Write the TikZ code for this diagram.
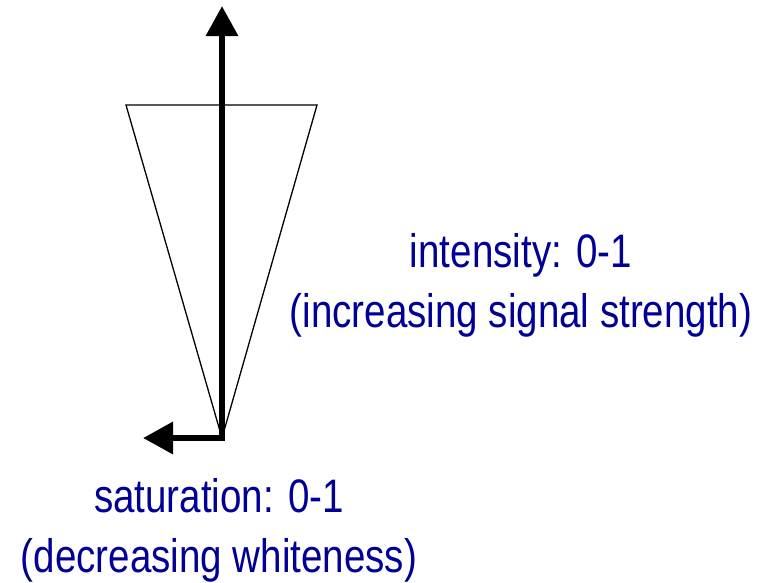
\documentclass[tikz,border=0pt]{standalone}
\usepackage{fontspec}
\setmainfont{Liberation Sans}[FakeStretch=0.82]
\usepackage{xcolor}
\usetikzlibrary{arrows.meta}
\definecolor{labelblue}{RGB}{0,0,150}

\begin{document}
\begin{tikzpicture}[x=1pt, y=-1pt, >={Triangle[length=30pt,width=31pt]},
  axis/.style={line width=6.3pt, <->},
  cone/.style={line width=1.3pt, line join=miter},
  axislabel/.style={text=labelblue, align=center, inner sep=0pt,
    font=\fontsize{47}{60}\selectfont}]
\useasboundingbox (0,0) rectangle (778,582);

% Cone
\coordinate (tl) at (126,105);
\coordinate (tr) at (317,105);
\coordinate (apex) at (222,438);
\draw[cone] (tl) -- (tr) -- (apex) -- cycle;

% Axes
\coordinate (top) at (222,6);
\coordinate (corner) at (222,438);
\coordinate (left) at (143,438);
\draw[axis] (top) -- (corner) -- (left);

% Labels
\node[axislabel] (intensity) at (521,285) {intensity: 0-1\\(increasing signal strength)};
\node[axislabel] (saturation) at (219,530) {saturation: 0-1\\(decreasing whiteness)};
\end{tikzpicture}
\end{document}
